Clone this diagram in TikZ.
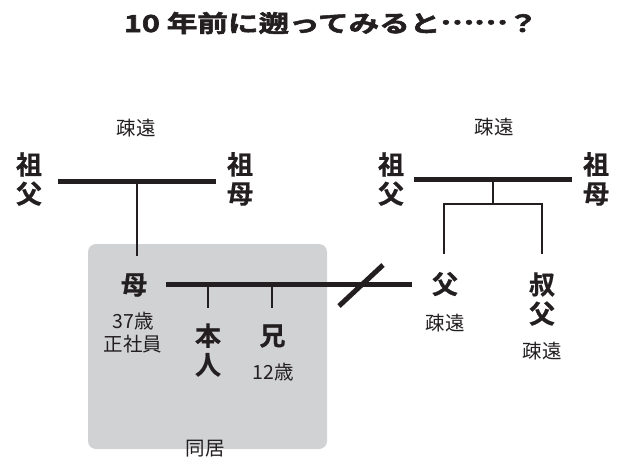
\documentclass[tikz,border=0pt]{standalone}
\usepackage{graphicx}
\usepackage{fontspec}
\setmainfont{Noto Sans CJK JP}
\newfontfamily\jpbold[FakeBold=0.6]{Noto Sans CJK JP Bold}
\newfontfamily\jptitle[FakeBold=2.2]{Noto Sans CJK JP Bold}
\definecolor{boxgray}{HTML}{D1D2D4}
\definecolor{ink}{HTML}{231F20}
\begin{document}
\begin{tikzpicture}[x=1pt,y=-1pt,
  bigch/.style={font=\jpbold\fontsize{26}{29}\selectfont, align=center, inner sep=0pt, text=ink},
  small/.style={font=\fontsize{19.5}{23}\selectfont, align=center, inner sep=0pt, text=ink},
  thick bar/.style={line width=5pt, ink},
  thin line/.style={line width=1.3pt, ink}]
\useasboundingbox (0,0) rectangle (618,459);
% box
\fill[boxgray, rounded corners=8pt] (88,244) rectangle (327,449);
% title
\node[font=\jptitle\fontsize{23.5}{26}\selectfont, text=ink, inner sep=0pt, anchor=base] (title) at (331,32) {\scalebox{1.3}[1]{10 年前に遡ってみると\raisebox{0.33em}{……}？}};
% left grandparents
\node[bigch] (lgf) at (29,179) {祖\\父};
\node[bigch] (lgm) at (240,179) {祖\\母};
\node[small] (lsoen) at (136,128) {疎遠};
\coordinate (lbl) at (58,181);
\coordinate (lbr) at (216,181);
\draw[thick bar] (lbl) -- (lbr);
\coordinate (lbm) at (137,181);
\coordinate (lbd) at (137,256);
\draw[thin line] (lbm) -- (lbd);
% right grandparents
\node[bigch] (rgf) at (391,179) {祖\\父};
\node[bigch] (rgm) at (596,179) {祖\\母};
\node[small] (rsoen) at (494,127) {疎遠};
\coordinate (rbl) at (414,179);
\coordinate (rbr) at (572,179);
\draw[thick bar] (rbl) -- (rbr);
\coordinate (rbm) at (493,179);
\coordinate (rbj) at (493,204);
\coordinate (rfa) at (444,204);
\coordinate (rfb) at (542,204);
\coordinate (rfa2) at (444,254);
\coordinate (rfb2) at (542,254);
\draw[thin line] (rbm) -- (rbj);
\draw[thin line] (rfa2) -- (rfa) -- (rfb) -- (rfb2);
% mother
\node[bigch] (mother) at (134,285) {母};
\node[small] (mage) at (133,333) {37歳\\正社員};
\coordinate (mbl) at (166,284);
\coordinate (mbr) at (412,284);
\draw[thick bar] (mbl) -- (mbr);
\coordinate (c1) at (208,284);
\coordinate (c1d) at (208,308);
\coordinate (c2) at (272,284);
\coordinate (c2d) at (272,308);
\draw[thin line] (c1) -- (c1d);
\draw[thin line] (c2) -- (c2d);
\node[bigch] (self) at (208,350) {本\\人};
\node[bigch] (bro) at (272.5,336) {兄};
\node[small] (broage) at (273,372) {12歳};
\coordinate (sl1) at (339,306);
\coordinate (sl2) at (383,265);
\draw[thick bar] (sl1) -- (sl2);
% father and uncle
\node[bigch] (father) at (445,284) {父};
\node[small] (fsoen) at (445,323) {疎遠};
\node[bigch] (uncle) at (542,299) {叔\\父};
\node[small] (usoen) at (542,351) {疎遠};
\node[small] (dokyo) at (205,449) {同居};
\end{tikzpicture}
\end{document}
